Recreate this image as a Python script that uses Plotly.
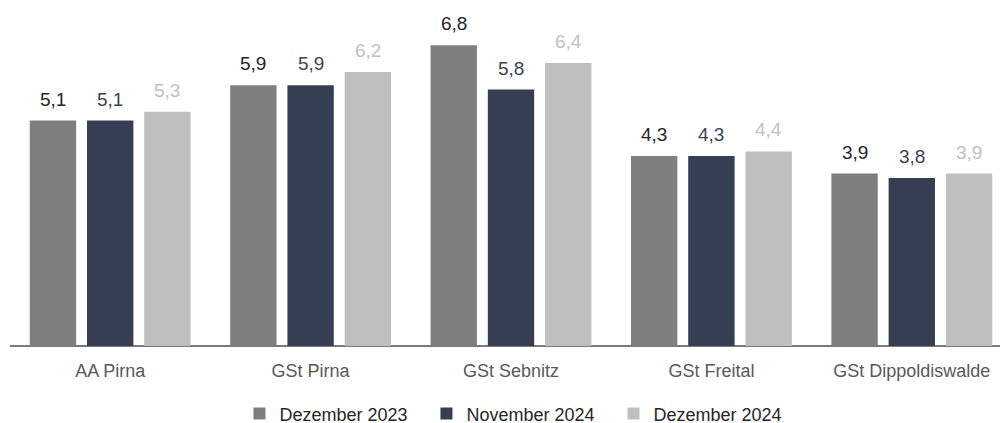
import plotly.graph_objects as go

categories = ["AA Pirna", "GSt Pirna", "GSt Sebnitz", "GSt Freital", "GSt Dippoldiswalde"]
series_names = ["Dezember 2023", "November 2024", "Dezember 2024"]
dez_2023 = [5.1, 5.9, 6.8, 4.3, 3.9]
nov_2024 = [5.1, 5.9, 5.8, 4.3, 3.8]
dez_2024 = [5.3, 6.2, 6.4, 4.4, 3.9]

bar_colors = ["#7f7f7f", "#363e54", "#bfbfbf"]
label_colors = ["#262626", "#3a4258", "#bfbfbf"]
series_values = [dez_2023, nov_2024, dez_2024]

FONT = "Liberation Sans, Arial, sans-serif"
W, H = 1008, 423
ML, MR, MT, MB = 2, 4, 2, 85
YMAX = 7.6
BARGAP = 0.143
plot_w = W - ML - MR
slot = (1 - BARGAP) * plot_w / len(categories) / 3

fig = go.Figure()
for i, (name, vals) in enumerate(zip(series_names, series_values)):
    fig.add_trace(go.Bar(
        x=categories, y=vals, name=name,
        marker=dict(color=bar_colors[i], line=dict(width=0)),
        hoverinfo="skip",
    ))
    for c, v in zip(categories, vals):
        fig.add_annotation(
            x=c, y=v, text=f"{v:.1f}".replace(".", ","),
            showarrow=False, xref="x", yref="y",
            xshift=(i - 1) * slot, yshift=9, yanchor="bottom",
            font=dict(family=FONT, size=19, color=label_colors[i]),
        )

fig.update_layout(
    width=W, height=H,
    margin=dict(l=ML, r=MR, t=MT, b=MB, autoexpand=False),
    paper_bgcolor="white", plot_bgcolor="white",
    barmode="group", bargap=BARGAP, bargroupgap=0.19,
    font=dict(family=FONT, size=18, color="#595959"),
    showlegend=True,
    legend=dict(
        orientation="h", x=0.229, xanchor="left", y=-0.202, yanchor="middle",
        font=dict(family=FONT, size=18, color="#262626"),
        entrywidth=142, entrywidthmode="pixels",
        itemclick=False, itemdoubleclick=False, bgcolor="rgba(0,0,0,0)",
    ),
    xaxis=dict(
        showgrid=False, zeroline=False, showline=False,
        ticks="", ticklabelstandoff=12,
        tickfont=dict(family=FONT, size=18, color="#595959"),
    ),
    yaxis=dict(
        range=[0, YMAX], showgrid=False, zeroline=True, zerolinecolor="#7a7a7a",
        zerolinewidth=2, showline=False, showticklabels=False, ticks="",
    ),
)

fig.write_html("out.html")
